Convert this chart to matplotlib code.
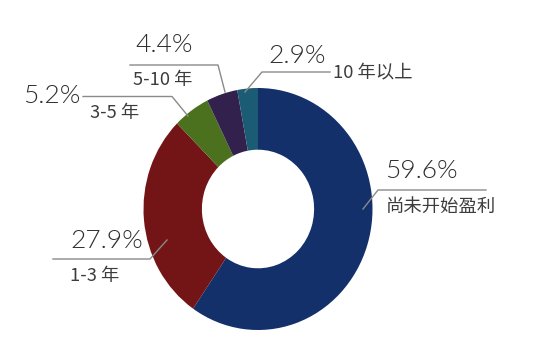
"""Donut chart: years until the company turns a profit."""

import matplotlib
matplotlib.use('Agg')
import matplotlib.pyplot as plt
from matplotlib.lines import Line2D

W, H = 554, 363

labels = ['尚未开始盈利', '1-3 年', '3-5 年', '5-10 年', '10 年以上']
values = [59.6, 27.9, 5.2, 4.4, 2.9]
pct_labels = ['59.6%', '27.9%', '5.2%', '4.4%', '2.9%']
colors = ['#13306b', '#731516', '#4b701e', '#32204d', '#1b5b74']

num_font = ['Lato', 'DejaVu Sans']
cjk_font = ['Noto Sans CJK SC', 'DejaVu Sans']
line_color = '#8a8a8a'
text_color = '#2e2e2e'
label_color = '#3c3c3c'

# label layout in pixels: (pct text xy, category text xy, leader polyline)
layout = [
    ((385, 171), (386, 207), [(363, 209), (378, 190), (486, 190)]),
    ((70, 241), (70, 276), [(167, 240), (150, 259), (53, 259)]),
    ((23, 96), (90, 113), [(188, 116), (172, 96.5), (83, 96.5)]),
    ((135, 45), (133, 80), [(225, 92), (218, 65), (130, 65)]),
    ((268, 56), (333, 72), [(245, 92), (262, 72), (330, 72)]),
]


def fx(x):
    return x / W


def fy(y):
    return 1 - y / H


fig = plt.figure(figsize=(W / 100, H / 100), dpi=100, facecolor='white')

# pie axes, slightly taller than wide like the source picture
cx, cy, rx, ry = 258, 209, 114.5, 121
ax = fig.add_axes([fx(cx - rx), fy(cy + ry), 2 * rx / W, 2 * ry / H])
ax.pie(values, colors=colors, startangle=90, counterclock=False, radius=1,
       wedgeprops=dict(width=0.51, linewidth=0))
ax.set_aspect('auto')
ax.set_xlim(-1, 1)
ax.set_ylim(-1, 1)
ax.axis('off')

for pct, lab, (pxy, lxy, pts) in zip(pct_labels, labels, layout):
    fig.add_artist(Line2D([fx(p[0]) for p in pts], [fy(p[1]) for p in pts],
                          transform=fig.transFigure, color=line_color, lw=1))
    fig.text(fx(pxy[0]), fy(pxy[1]), pct, family=num_font, fontweight=300,
             fontsize=19, color=text_color, ha='left', va='center')
    fig.text(fx(lxy[0]), fy(lxy[1]), lab, family=cjk_font, fontweight=300,
             fontsize=13.2, color=label_color, ha='left', va='center')

fig.savefig('out.png', dpi=100)
